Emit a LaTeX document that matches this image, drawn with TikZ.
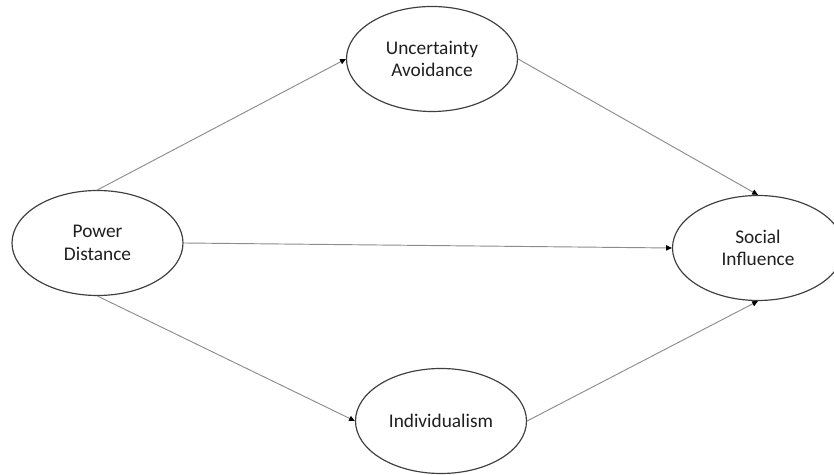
\documentclass[tikz,border=0pt]{standalone}
\usepackage{fontspec}
\setmainfont{Carlito}
\usepackage{tikz}
\usetikzlibrary{arrows.meta,shapes.geometric}
\definecolor{Ink}{HTML}{1F1F1F}
\definecolor{Rim}{HTML}{3F3F3F}
\definecolor{Wire}{HTML}{8C8C8C}
\tikzset{
  factor/.style={draw=Rim, ellipse, line width=1pt, fill=white, align=center, text=Ink, inner sep=0pt, minimum width=51.3mm, minimum height=31.5mm, font=\fontsize{16.5}{19}\selectfont},
  arrow/.style={-{Triangle[length=5pt, width=4.5pt, color=black]}, line width=0.8pt, draw=Wire}
}
\begin{document}
\begin{tikzpicture}[x=0.3mm, y=0.3mm]
  \useasboundingbox (0,0) rectangle (834,475);
  \node[factor] (power) at (97.5,232) {Power\\Distance};
  \node[factor] (uncertainty) at (432,416) {Uncertainty\\Avoidance};
  \node[factor] (social) at (758,227) {Social\\Influence};
  \node[factor] (individualism) at (441,54) {Individualism};

  \draw[arrow] (power.north) -- (uncertainty.west);
  \draw[arrow] (power.east) -- (social.west);
  \draw[arrow] (power.south) -- (individualism.west);
  \draw[arrow] (uncertainty.east) -- (social.north);
  \draw[arrow] (individualism.east) -- (social.south);
\end{tikzpicture}
\end{document}
